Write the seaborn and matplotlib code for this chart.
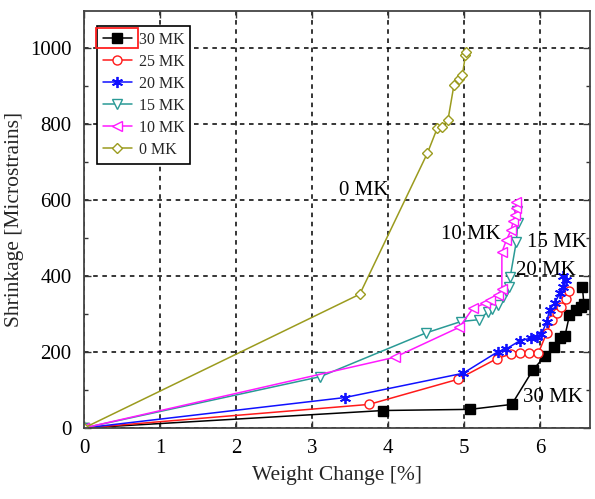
import matplotlib
matplotlib.use("Agg")
import matplotlib.pyplot as plt
from matplotlib.patches import Rectangle
import numpy as np
import pandas as pd
import seaborn as sns

# Weight change [%] vs. shrinkage [microstrains] for each MK dosage
x_30 = [0, 3.94, 5.08, 5.63, 5.91, 6.07, 6.18, 6.26, 6.33, 6.39, 6.47, 6.54, 6.58, 6.56]
y_30 = [0, 46, 49, 62, 153, 190, 212, 236, 242, 297, 311, 318, 326, 370]

x_25 = [0, 3.75, 4.92, 5.43, 5.62, 5.74, 5.86, 5.98, 6.09, 6.16, 6.22, 6.28, 6.35, 6.38]
y_25 = [0, 62, 128, 182, 195, 196, 197, 197, 250, 285, 302, 318, 340, 360]

x_20 = [0, 3.43, 4.99, 5.45, 5.55, 5.74, 5.88, 5.96, 6.02, 6.09, 6.13, 6.20, 6.26, 6.31, 6.34, 6.31]
y_20 = [0, 80, 144, 201, 207, 230, 236, 240, 246, 280, 311, 330, 354, 372, 389, 400]

x_15 = [0, 3.11, 4.50, 4.96, 5.20, 5.32, 5.37, 5.45, 5.52, 5.56, 5.60, 5.61, 5.69, 5.71, 5.70]
y_15 = [0, 135, 250, 280, 285, 306, 312, 324, 345, 360, 372, 398, 490, 540, 570]

x_10 = [0, 4.09, 4.94, 5.12, 5.28, 5.34, 5.45, 5.50, 5.50, 5.56, 5.62, 5.65, 5.67, 5.68, 5.69]
y_10 = [0, 186, 265, 315, 328, 337, 350, 365, 462, 495, 520, 545, 560, 580, 595]

x_0 = [0, 3.63, 4.52, 4.65, 4.71, 4.79, 4.87, 4.94, 4.98, 5.02, 5.03]
y_0 = [0, 352, 723, 789, 791, 810, 903, 918, 929, 980, 990]

series_names = ["30 MK", "25 MK", "20 MK", "15 MK", "10 MK", "0 MK"]
series_x = [x_30, x_25, x_20, x_15, x_10, x_0]
series_y = [y_30, y_25, y_20, y_15, y_10, y_0]

# In-plot labels (text, x, y)
curve_labels = [("0 MK", 3.68, 626), ("10 MK", 5.09, 508), ("15 MK", 6.22, 489),
                ("20 MK", 6.08, 413), ("30 MK", 6.17, 79)]

x_ticks = [0, 1, 2, 3, 4, 5, 6]
y_ticks = [0, 200, 400, 600, 800, 1000]

styles = {
    "30 MK": dict(color="black", marker="s", mfc="black", ms=6.5, mew=1.0),
    "25 MK": dict(color="#ff1a1a", marker="o", mfc="white", ms=6.5, mew=1.0),
    "20 MK": dict(color="#1010ff", marker=(6, 2, 0), mfc="none", ms=8, mew=1.3),
    "15 MK": dict(color="#2a9a96", marker="v", mfc="white", ms=6.5, mew=1.0),
    "10 MK": dict(color="#ff1aff", marker="<", mfc="white", ms=6.5, mew=1.0),
    "0 MK": dict(color="#9b9b1e", marker="D", mfc="white", ms=5.5, mew=1.0),
}

sns.set_theme(style="ticks")
plt.rcParams["font.family"] = ["Liberation Serif", "DejaVu Serif"]
plt.rcParams["mathtext.fontset"] = "stix"

fig = plt.figure(figsize=(5.95, 4.99), dpi=100)
ax = fig.add_axes([0.1412, 0.1423, 0.8504, 0.8357])

for name, xs, ys in zip(series_names, series_x, series_y):
    df = pd.DataFrame({"x": xs, "y": ys, "order": np.arange(len(xs))})
    st = styles[name]
    sns.lineplot(data=df, x="x", y="y", sort=False, estimator=None, ax=ax,
                 color=st["color"], marker=st["marker"], markersize=st["ms"],
                 markerfacecolor=st["mfc"], markeredgecolor=st["color"],
                 markeredgewidth=st["mew"], linewidth=1.1, label=name)

for text, tx, ty in curve_labels:
    ax.text(tx, ty, text, fontsize=15, ha="center", va="center", color="black")

ax.set_xlim(0, 6.66)
ax.set_ylim(0, 1097)
ax.set_xticks(x_ticks)
ax.set_yticks(y_ticks)
ax.set_yticks(np.arange(100, 1100, 200), minor=True)
ax.tick_params(axis="both", which="both", direction="in", top=True, right=True,
               labelsize=15, colors="#333333", labelcolor="black")
ax.tick_params(axis="y", which="major", pad=9)
ax.tick_params(axis="x", which="major", pad=8)
ax.tick_params(which="major", length=5, width=1)
ax.tick_params(which="minor", length=3, width=1)
ax.grid(True, which="major", color="black", linestyle=(0, (3, 3)), linewidth=1.1)
for sp in ax.spines.values():
    sp.set_color("#444444")
    sp.set_linewidth(1.3)

ax.set_xlabel("Weight Change [%]", fontsize=15.5, labelpad=6)
ax.set_ylabel("Shrinkage [Microstrains]", fontsize=15.5, labelpad=4)

leg = ax.legend(loc="upper left", bbox_to_anchor=(0.026, 0.964), borderaxespad=0,
                fontsize=11.5, frameon=True, fancybox=False, edgecolor="black",
                framealpha=1, handlelength=1.8, labelspacing=0.38,
                handletextpad=0.45, borderpad=0.35)
leg.get_frame().set_linewidth(1.2)

# Red highlight box around the first legend key
fig.canvas.draw()
renderer = fig.canvas.get_renderer()
hb = leg.legend_handles[0].get_window_extent(renderer)
fig.patches.append(Rectangle((hb.x0 - 2, hb.y0 - 5), hb.width + 4, hb.height + 10,
                             transform=None, fill=False, edgecolor="#ff2020",
                             linewidth=1.3, zorder=10))

fig.savefig("out.png", dpi=100)
